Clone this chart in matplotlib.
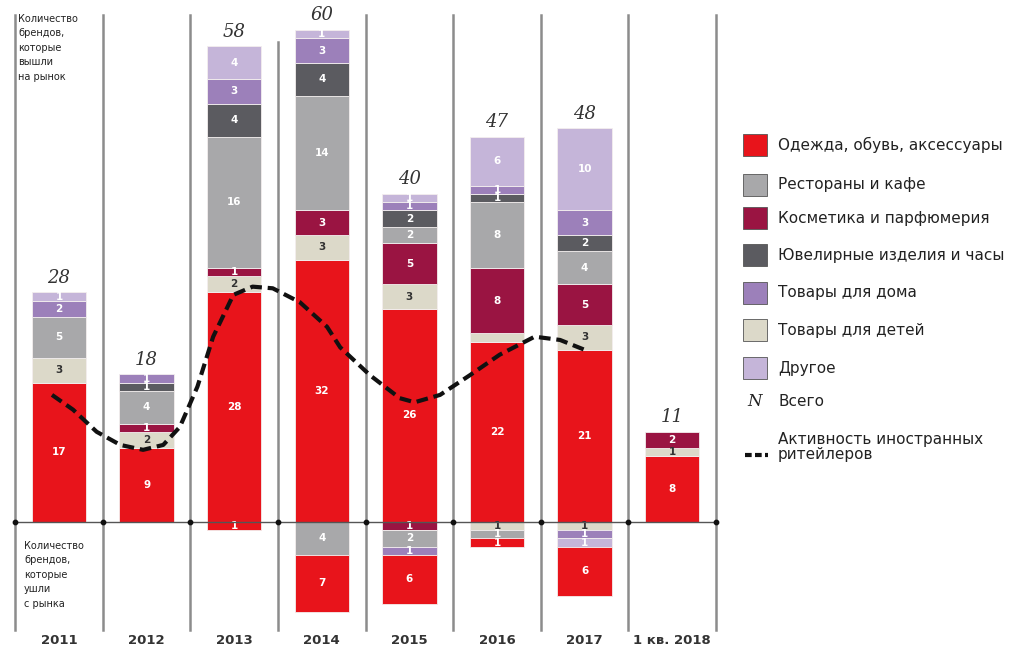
import matplotlib
matplotlib.use("Agg")
import matplotlib.pyplot as plt
from matplotlib.patches import Rectangle
from matplotlib.lines import Line2D

plt.rcParams["font.family"] = ["DejaVu Sans"]

years = ["2011", "2012", "2013", "2014", "2015", "2016", "2017", "1 кв. 2018"]
totals = [28, 18, 58, 60, 40, 47, 48, 11]

# brands that entered the market (stacked upwards)
in_clothes = [17, 9, 28, 32, 26, 22, 21, 8]
in_kids = [3, 2, 2, 3, 3, 1, 3, 1]
in_cosmetics = [0, 1, 1, 3, 5, 8, 5, 2]
in_rest = [5, 4, 16, 14, 2, 8, 4, 0]
in_jewel = [0, 1, 4, 4, 2, 1, 2, 0]
in_home = [2, 1, 3, 3, 1, 1, 3, 0]
in_other = [1, 0, 4, 1, 1, 6, 10, 0]

# brands that left the market (stacked downwards)
out_clothes = [0, 0, 1, 7, 6, 1, 6, 0]
out_kids = [0, 0, 0, 0, 0, 1, 1, 0]
out_cosmetics = [0, 0, 0, 0, 1, 0, 0, 0]
out_rest = [0, 0, 0, 4, 2, 1, 0, 0]
out_jewel = [0, 0, 0, 0, 0, 0, 0, 0]
out_home = [0, 0, 0, 0, 1, 0, 1, 0]
out_other = [0, 0, 0, 0, 0, 0, 1, 0]

# activity of foreign retailers (dashed curve)
act_x = [-0.08, 0.16, 0.43, 0.70, 0.96, 1.19, 1.38, 1.58, 1.76, 1.99, 2.21, 2.44,
         2.75, 3.06, 3.21, 3.55, 3.89, 4.06, 4.35, 4.69, 5.03, 5.43, 5.72, 6.00]
act_y = [15.5, 13.7, 11.0, 9.4, 8.8, 9.4, 11.6, 16.5, 22.6, 27.7, 28.7, 28.5,
         26.8, 23.8, 21.3, 17.9, 15.1, 14.6, 15.5, 17.9, 20.4, 22.6, 22.2, 21.0]

cats = ["Одежда, обувь, аксессуары", "Рестораны и кафе", "Косметика и парфюмерия",
        "Ювелирные изделия и часы", "Товары для дома", "Товары для детей", "Другое"]
colors = {"Одежда, обувь, аксессуары": "#e8141b", "Рестораны и кафе": "#a8a8aa",
          "Косметика и парфюмерия": "#9a1442", "Ювелирные изделия и часы": "#5b5b60",
          "Товары для дома": "#9c80ba", "Товары для детей": "#dcd9c9", "Другое": "#c5b5d9"}

up = [("Одежда, обувь, аксессуары", in_clothes), ("Товары для детей", in_kids),
      ("Косметика и парфюмерия", in_cosmetics), ("Рестораны и кафе", in_rest),
      ("Ювелирные изделия и часы", in_jewel), ("Товары для дома", in_home),
      ("Другое", in_other)]
down = [("Товары для детей", out_kids), ("Косметика и парфюмерия", out_cosmetics),
        ("Рестораны и кафе", out_rest), ("Ювелирные изделия и часы", out_jewel),
        ("Товары для дома", out_home), ("Другое", out_other),
        ("Одежда, обувь, аксессуары", out_clothes)]

W, H = 1031, 652
fig = plt.figure(figsize=(W / 100, H / 100), dpi=100)
ax = fig.add_axes([0, 0, 1, 1])
# pixel layout of the original: category i centred at 59 + 87.6*i, baseline at 522 px, 8.2 px per brand
ax.set_xlim((0 - 59) / 87.6, (W - 59) / 87.6)
ax.set_ylim((522 - H) / 8.2, 522 / 8.2)
ax.axis("off")

x = list(range(len(years)))
bw = 0.62


def seg_label(xi, bottom, h, cat):
    if h <= 0:
        return
    tc = "#333333" if cat == "Товары для детей" else "white"
    ax.text(xi, bottom + h / 2, str(abs(h)), ha="center", va="center",
            fontsize=7.5, fontweight="bold", color=tc)


for i in x:
    b = 0
    for cat, vals in up:
        v = vals[i]
        if v:
            ax.bar(i, v, bw, bottom=b, color=colors[cat], edgecolor="#f3eeee", linewidth=0.6)
            if not (cat == "Товары для детей" and i == 5):
                seg_label(i, b, v, cat)
            b += v
    ax.text(i, b + 0.7, str(totals[i]), ha="center", va="bottom", fontsize=13,
            style="italic", family="DejaVu Serif", color="#333333")
    b = 0
    for cat, vals in down:
        v = vals[i]
        if v:
            ax.bar(i, -v, bw, bottom=b, color=colors[cat], edgecolor="#f3eeee", linewidth=0.6)
            tc = "#333333" if cat == "Товары для детей" else "white"
            ax.text(i, b - v / 2, str(v), ha="center", va="center",
                    fontsize=7.5, fontweight="bold", color=tc)
            b -= v

# separators and baseline
for k in range(len(years) + 1):
    top = (522 - 42) / 8.2 if k == 3 else (522 - 15) / 8.2
    ax.plot([k - 0.5, k - 0.5], [(522 - 630) / 8.2, top], color="#8c8c8c", lw=1.8, zorder=0)
ax.plot([-0.5, len(years) - 0.5], [0, 0], color="#555555", lw=1, zorder=3)
ax.scatter([k - 0.5 for k in range(len(years) + 1)], [0] * (len(years) + 1),
           s=10, color="#111111", zorder=4)

ax.plot(act_x, act_y, color="#111111", lw=3, dashes=(2.8, 1.4), zorder=5,
        solid_joinstyle="round")

for i, lab in enumerate(years):
    ax.text(i, (522 - 640) / 8.2, lab, ha="center", va="center", fontsize=9.5,
            fontweight="bold", color="#333333")


def fx(px):
    return px / W


def fy(py):
    return 1 - py / H


fig.text(fx(18), fy(14), "Количество\nбрендов,\nкоторые\nвышли\nна рынок", ha="left",
         va="top", fontsize=7, color="#222222", linespacing=1.55)
fig.text(fx(24), fy(541), "Количество\nбрендов,\nкоторые\nушли\nс рынка", ha="left",
         va="top", fontsize=7, color="#222222", linespacing=1.55)

# legend
leg_y = [145, 185, 218, 255, 293, 330, 368]
for cat, py in zip(cats, leg_y):
    fig.add_artist(Rectangle((fx(743), fy(py + 11)), 24 / W, 22 / H, color=colors[cat],
                             ec="#555555", lw=0.6, transform=fig.transFigure))
    fig.text(fx(778), fy(py), cat, ha="left", va="center", fontsize=11, color="#222222")
fig.text(fx(755), fy(401), "N", ha="center", va="center", fontsize=12, style="italic",
         family="DejaVu Serif", color="#222222")
fig.text(fx(778), fy(401), "Всего", ha="left", va="center", fontsize=11, color="#222222")
fig.add_artist(Line2D([fx(745), fx(768)], [fy(455), fy(455)], color="#111111", lw=3,
                      dashes=(1.6, 0.8), transform=fig.transFigure))
fig.text(fx(778), fy(447), "Активность иностранных\nритейлеров", ha="left", va="center",
         fontsize=11, color="#222222", linespacing=1.0)

fig.savefig("out.png", dpi=100)
